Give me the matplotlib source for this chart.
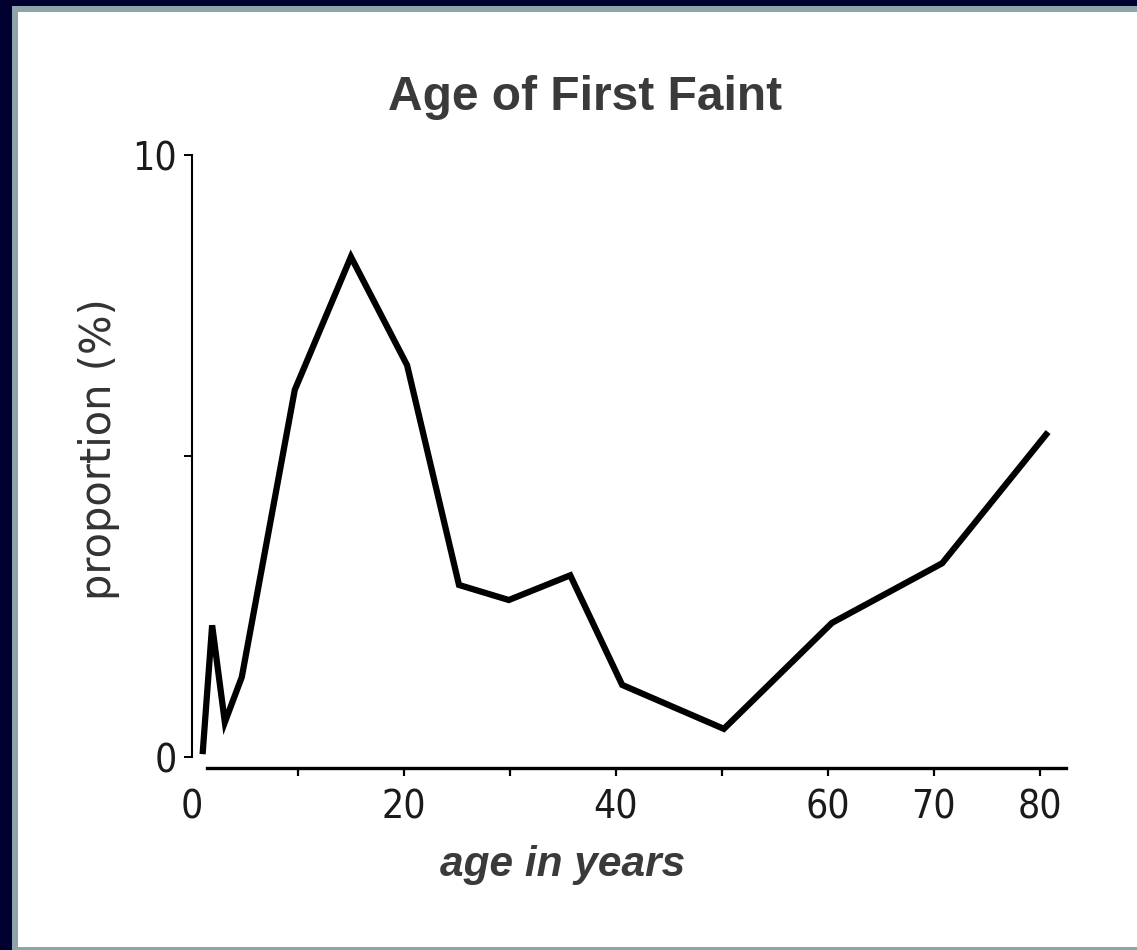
import numpy as np
import matplotlib
matplotlib.use('Agg')
import matplotlib.pyplot as plt
from matplotlib.patches import Rectangle
from matplotlib import font_manager as fm

# Data
age = [1.0, 1.9, 3.1, 4.7, 9.7, 15.0, 20.3, 25.2, 29.9, 35.7, 40.6, 50.2, 60.4, 70.8, 80.8]
proportion = [0.05, 2.19, 0.58, 1.33, 6.1, 8.31, 6.51, 2.86, 2.61, 3.02, 1.2, 0.47, 2.23, 3.22, 5.4]

x_ticks = [0, 10, 20, 30, 40, 50, 60, 70, 80]
x_tick_labels = ['0', '', '20', '', '40', '', '60', '70', '80']
y_ticks = [0, 5, 10]
y_tick_labels = ['0', '', '10']

W, H = 1137, 950
fig = plt.figure(figsize=(W / 100, H / 100), dpi=100)
fig.patch.set_facecolor('#000030')

# slide-like frame: gray strip then white panel
fig.add_artist(Rectangle((12 / W, 0), 1, 1 - 6 / H, transform=fig.transFigure,
                         facecolor='#8fa3aa', edgecolor='none', zorder=0))
fig.add_artist(Rectangle((18 / W, 3 / H), 1, 1 - 15 / H, transform=fig.transFigure,
                         facecolor='white', edgecolor='none', zorder=0))

ax = fig.add_axes([192 / W, 1 - 768 / H, 890 / W, 631 / H])
ax.set_facecolor('none')
ax.plot(age, proportion, color='black', linewidth=4.5, solid_joinstyle='miter',
        solid_capstyle='butt')

ax.set_xlim(0, 84)
ax.set_ylim(-0.18, 10.3)

for s in ['top', 'right']:
    ax.spines[s].set_visible(False)
ax.spines['left'].set_bounds(0, 10)
ax.spines['left'].set_linewidth(1.5)
ax.spines['bottom'].set_bounds(1.4, 82.5)
ax.spines['bottom'].set_linewidth(2.4)

# condensed face for the tick numbers, if one is installed
tick_prop = fm.FontProperties(family='DejaVu Sans', stretch='condensed', size=28)

ax.set_xticks(x_ticks)
ax.set_xticklabels(x_tick_labels, fontproperties=tick_prop, color='#1a1a1a')
ax.set_yticks(y_ticks)
ax.set_yticklabels(y_tick_labels, fontproperties=tick_prop, color='#1a1a1a')
ax.tick_params(axis='x', length=6, width=1.6, pad=9, direction='out')
ax.tick_params(axis='y', length=6, width=1.4, pad=5, direction='out')
ax.xaxis.get_major_ticks()[0].tick1line.set_visible(False)

fig.text(0.515, 1 - 98 / H, 'Age of First Faint', ha='center', va='center',
         fontsize=34.5, fontweight='bold', family='Liberation Sans', color='#3a3a3a')
fig.text(0.495, 1 - 865 / H, 'age in years', ha='center', va='center',
         fontsize=30.5, fontweight='bold', style='italic', family='Liberation Sans',
         color='#3a3a3a')
fig.text(99 / W, 1 - 449 / H, 'proportion (%)', ha='center', va='center',
         rotation=90, fontsize=30, family='DejaVu Sans', color='#333333')

fig.savefig('out.png', dpi=100, facecolor=fig.get_facecolor())
